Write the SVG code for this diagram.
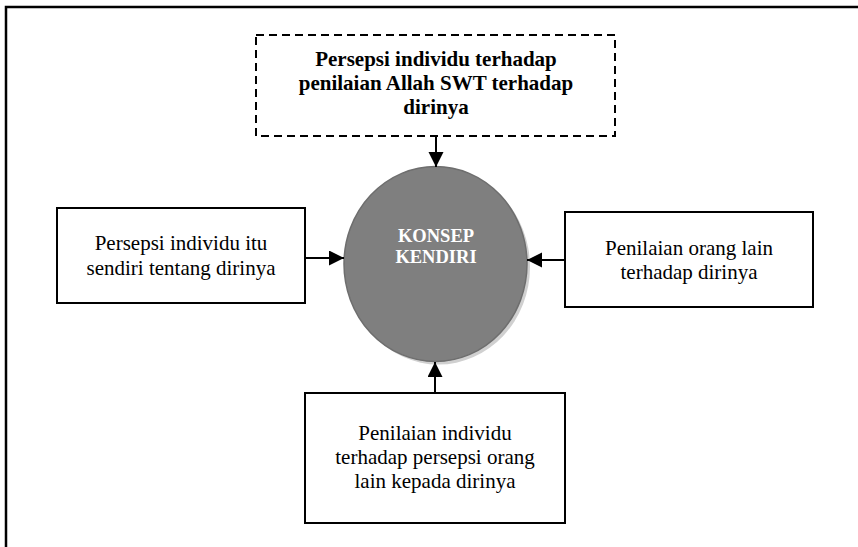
<svg xmlns="http://www.w3.org/2000/svg" width="858" height="547" viewBox="0 0 858 547">
  <defs>
    <marker id="arrow" markerUnits="userSpaceOnUse" markerWidth="16" markerHeight="16" refX="15" refY="7.5" orient="auto">
      <path d="M0,0 L15,7.5 L0,15 Z" fill="#000"/>
    </marker>
  </defs>
  <style>
    .box { fill: #fff; stroke: #000; stroke-width: 2; }
    .dash { fill: #fff; stroke: #000; stroke-width: 2; stroke-dasharray: 8 5; }
    .t { font-family: "Liberation Serif", "Times New Roman", serif; font-size: 21px; fill: #000; text-anchor: middle; }
    .tb { font-weight: bold; }
    .c { font-family: "Liberation Serif", "Times New Roman", serif; font-size: 18.5px; font-weight: bold; fill: #fff; text-anchor: middle; }
    .conn { stroke: #000; stroke-width: 2; fill: none; marker-end: url(#arrow); }
  </style>
  <rect width="858" height="547" fill="#fff"/>
  <g id="frame">
    <path d="M6,547 L6,7 L858,7" fill="none" stroke="#000" stroke-width="2.5"/>
  </g>
  <g id="node-top">
    <rect class="dash" x="256" y="35" width="359" height="101"/>
    <text class="t tb" x="436" y="66">Persepsi individu terhadap</text>
    <text class="t tb" x="436" y="90">penilaian Allah SWT terhadap</text>
    <text class="t tb" x="436" y="114">dirinya</text>
  </g>
  <g id="node-center">
    <ellipse cx="438.5" cy="267" rx="91.5" ry="97.5" fill="#d0d0d0"/>
    <ellipse cx="435.5" cy="264" rx="91.5" ry="97.5" fill="#7f7f7f" stroke="#6e6e6e" stroke-width="1.5"/>
    <text class="c" x="436" y="242">KONSEP</text>
    <text class="c" x="436" y="263">KENDIRI</text>
  </g>
  <g id="node-left">
    <rect class="box" x="57" y="208" width="248" height="95"/>
    <text class="t" x="181" y="250">Persepsi individu itu</text>
    <text class="t" x="181" y="275">sendiri tentang dirinya</text>
  </g>
  <g id="node-right">
    <rect class="box" x="565" y="212" width="248" height="95"/>
    <text class="t" x="689" y="255">Penilaian orang lain</text>
    <text class="t" x="689" y="279">terhadap dirinya</text>
  </g>
  <g id="node-bottom">
    <rect class="box" x="305" y="393" width="260" height="130"/>
    <text class="t" x="435" y="440">Penilaian individu</text>
    <text class="t" x="435" y="464">terhadap persepsi orang</text>
    <text class="t" x="435" y="488">lain kepada dirinya</text>
  </g>
  <g id="connectors">
    <line class="conn" x1="436" y1="136" x2="436" y2="167"/>
    <line class="conn" x1="305" y1="258" x2="344" y2="258"/>
    <line class="conn" x1="565" y1="260" x2="527" y2="260"/>
    <line class="conn" x1="435" y1="393" x2="435" y2="362"/>
  </g>
</svg>
